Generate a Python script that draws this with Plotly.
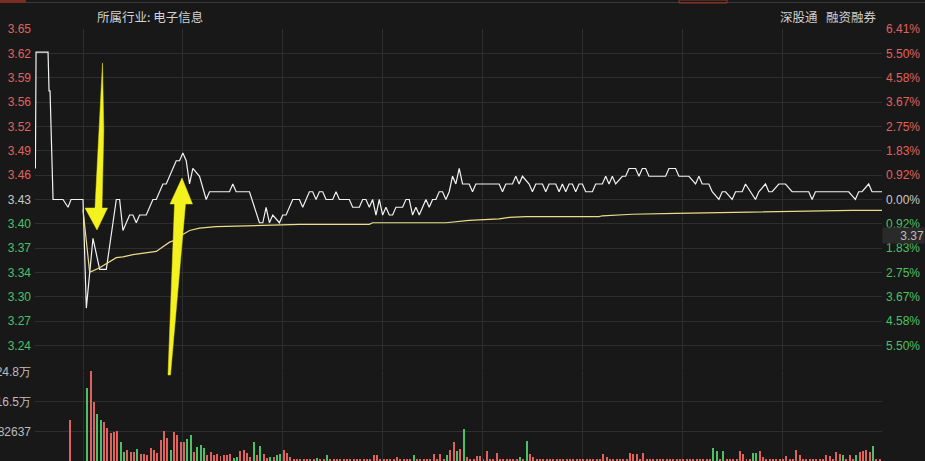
import plotly.graph_objects as go

# ---------------- data ----------------
pre_close = 3.43
max_pct = 6.41

price_tick_labels = ["3.65", "3.62", "3.59", "3.56", "3.52", "3.49", "3.46",
                     "3.43", "3.40", "3.37", "3.34", "3.30", "3.27", "3.24"]
pct_tick_labels = ["6.41%", "5.50%", "4.58%", "3.67%", "2.75%", "1.83%", "0.92%",
                   "0.00%", "0.92%", "1.83%", "2.75%", "3.67%", "4.58%", "5.50%"]
vol_tick_vals = [82637, 165274, 247911]
vol_tick_labels = ["82637", "16.5万", "24.8万"]

# call-auction segment (minutes before 9:30 open, drawn left of the first grid line)
auction_min = [-14.3, -14.1, -10.5, -10.2, -9.9, -9.0, -6.0, -4.5, -3.6, 0]
auction_price = [3.47, 3.62, 3.62, 3.57, 3.57, 3.43, 3.43, 3.42, 3.43, 3.43]
auction_vol_min = [-4]
auction_vol = [115000]

# intraday price (minute, price)
price_min = [0, 1, 2, 3, 5, 7, 8, 10, 11, 12, 14, 15, 16, 17, 19, 21, 22, 24, 25, 28,
             29, 30, 31, 32, 33, 35, 37, 38, 44, 45, 46, 50, 53, 54, 55, 56, 57, 59, 60, 61,
             63, 65, 66, 68, 69, 70, 71, 72, 73, 75, 76, 77, 80, 81, 83, 84, 85, 86, 87, 88,
             89, 90, 91, 92, 93, 94, 96, 97, 98, 99, 100, 101, 103, 104, 105, 106, 107, 108, 109, 110,
             111, 112, 113, 114, 116, 117, 118, 125, 126, 127, 129, 130, 131, 132, 134, 135, 136, 138, 139, 140,
             142, 143, 144, 145, 146, 147, 148, 149, 150, 151, 153, 154, 156, 157, 158, 159, 160, 162, 163, 164,
             166, 167, 168, 169, 170, 175, 176, 178, 179, 182, 184, 185, 186, 188, 189, 191, 192, 193, 195, 196,
             198, 199, 202, 203, 205, 206, 207, 209, 211, 213, 218, 219, 220, 230, 232, 233, 234, 236, 237, 240]
price_val = [3.43, 3.29, 3.34, 3.38, 3.34, 3.34, 3.37, 3.43, 3.43, 3.39, 3.41, 3.41, 3.40, 3.41, 3.41, 3.43, 3.43, 3.45, 3.45, 3.48,
             3.48, 3.49, 3.48, 3.45, 3.47, 3.46, 3.43, 3.44, 3.44, 3.45, 3.44, 3.44, 3.40, 3.40, 3.42, 3.40, 3.41, 3.40, 3.41, 3.41,
             3.43, 3.43, 3.42, 3.44, 3.44, 3.43, 3.44, 3.44, 3.43, 3.43, 3.44, 3.43, 3.43, 3.42, 3.42, 3.43, 3.43, 3.42, 3.43, 3.41,
             3.43, 3.41, 3.42, 3.41, 3.41, 3.42, 3.42, 3.43, 3.43, 3.41, 3.42, 3.41, 3.43, 3.42, 3.43, 3.43, 3.44, 3.44, 3.43, 3.44,
             3.46, 3.45, 3.47, 3.45, 3.45, 3.44, 3.45, 3.45, 3.44, 3.45, 3.45, 3.46, 3.45, 3.46, 3.45, 3.44, 3.45, 3.45, 3.44, 3.45,
             3.45, 3.44, 3.45, 3.44, 3.45, 3.45, 3.44, 3.45, 3.45, 3.44, 3.44, 3.45, 3.45, 3.46, 3.45, 3.46, 3.45, 3.46, 3.46, 3.47,
             3.47, 3.46, 3.47, 3.47, 3.46, 3.46, 3.47, 3.47, 3.46, 3.46, 3.45, 3.46, 3.45, 3.45, 3.44, 3.43, 3.44, 3.44, 3.43, 3.44,
             3.44, 3.45, 3.43, 3.44, 3.45, 3.44, 3.44, 3.45, 3.45, 3.44, 3.44, 3.43, 3.44, 3.44, 3.43, 3.44, 3.44, 3.45, 3.44, 3.44]

# average-price line
avg_min = [0, 2, 5, 8, 10, 12, 15, 22, 24, 26, 28, 30, 32, 35, 40, 50, 65, 86, 87, 109,
           116, 125, 128, 133, 155, 156, 165, 178, 191, 210, 231, 240]
avg_val = [3.417, 3.336, 3.342, 3.350, 3.355, 3.356, 3.359, 3.363, 3.369, 3.375, 3.378, 3.385, 3.390, 3.393, 3.395,
           3.396, 3.398, 3.398, 3.400, 3.400, 3.403, 3.405, 3.407, 3.408, 3.408, 3.409, 3.411, 3.412, 3.413,
           3.415, 3.416, 3.416]

# per-minute volume (shares), minute 0..240
volume = [
    0, 203000, 250000, 165000, 131000, 114000, 109000, 92000, 78000, 82000,
    84000, 54000, 25000, 31000, 25000, 25000, 33000, 19000, 20000, 17000,
    35000, 31000, 21000, 58000, 83000, 65000, 31000, 82000, 72000, 54000,
    52000, 62000, 72000, 26000, 38000, 45000, 35000, 17000, 26000, 17000,
    19000, 14000, 17000, 18000, 19000, 8000, 12000, 29000, 31000, 21000,
    10000, 52000, 17000, 43000, 19000, 8000, 10000, 10000, 17000, 19000,
    31000, 21000, 10000, 6000, 5000, 4000, 6000, 4000, 3000, 5000,
    8000, 4000, 3000, 17000, 4000, 3000, 4000, 3000, 4000, 3000,
    4000, 3000, 4000, 3000, 5000, 4000, 6000, 17000, 17000, 5000,
    4000, 3000, 5000, 4000, 12000, 4000, 3000, 5000, 4000, 17000,
    4000, 3000, 5000, 4000, 6000, 20000, 4000, 20000, 5000, 17000,
    31000, 52000, 29000, 33000, 89000, 10000, 4000, 5000, 14000, 14000,
    5000, 29000, 4000, 5000, 21000, 4000, 3000, 4000, 3000, 4000,
    4000, 10000, 5000, 56000, 19000, 10000, 4000, 3000, 4000, 3000,
    4000, 3000, 4000, 3000, 4000, 3000, 4000, 3000, 4000, 3000,
    4000, 3000, 4000, 5000, 4000, 6000, 19000, 12000, 4000, 3000,
    4000, 3000, 5000, 4000, 21000, 19000, 19000, 5000, 21000, 4000,
    3000, 4000, 3000, 4000, 3000, 4000, 3000, 4000, 3000, 4000,
    3000, 4000, 3000, 4000, 5000, 4000, 3000, 4000, 6000, 35000,
    29000, 5000, 29000, 6000, 4000, 5000, 4000, 29000, 19000, 5000,
    6000, 21000, 21000, 29000, 10000, 4000, 3000, 4000, 5000, 4000,
    4000, 14000, 5000, 4000, 31000, 17000, 4000, 3000, 4000, 5000,
    4000, 5000, 6000, 17000, 14000, 5000, 26000, 19000, 17000, 6000,
    18000, 5000, 17000, 26000, 29000, 31000, 26000, 43000, 6000, 5000,
    33000,
]
down_minutes = [1, 4, 5, 11, 12, 16, 26, 31, 32, 34, 35, 36, 45, 46, 51, 53, 56, 58, 59,
                70, 73, 99, 109, 112, 114, 131, 133, 189, 190, 192, 201, 202, 228, 232, 237]

header_left = "所属行业: 电子信息"
header_right = "深股通   融资融券"
cursor_price = "3.37"

# ---------------- style ----------------
BG = "#181818"
GRID = "#2e2e2e"
RED = "#e0625c"
GREEN = "#4cc066"
NEUTRAL = "#c8c8c8"
W, H = 925, 461
ML, MR, MT, MB = 35, 43, 29, 0
PW, PH = W - ML - MR, H - MT - MB


def px(xp):
    return (xp - ML) / PW


def py(yp):
    return (H - yp) / PH


step = max_pct / 7 / 100
ks = list(range(7, -7, -1))
tickvals = [pre_close * (1 + k * step) for k in ks]
lo = pre_close * (1 - max_pct / 100)
hi = pre_close * (1 + max_pct / 100) + 1e-6


def col(k):
    return RED if k > 0 else (GREEN if k < 0 else NEUTRAL)


left_text = [f"<span style='color:{col(k)}'>{t}</span>" for k, t in zip(ks, price_tick_labels)]
right_text = [f"<span style='color:{col(k)}'>{t}</span>" for k, t in zip(ks, pct_tick_labels)]

x_min = -48 / 3.329
fig = go.Figure()

fig.add_trace(go.Scatter(x=auction_min + price_min[1:], y=auction_price + price_val[1:],
                         mode="lines", line=dict(color="#f2f2f2", width=1.2),
                         xaxis="x", yaxis="y", hoverinfo="skip"))
fig.add_trace(go.Scatter(x=avg_min, y=avg_val, mode="lines",
                         line=dict(color="#eadc8a", width=1.2),
                         xaxis="x", yaxis="y", hoverinfo="skip"))
fig.add_trace(go.Scatter(x=[0], y=[pre_close], mode="markers", marker=dict(opacity=0),
                         xaxis="x", yaxis="y2", hoverinfo="skip"))

vol_x = [i + 0.3 for i in range(len(volume))]
vol_colors = [GREEN if i in down_minutes else RED for i in range(len(volume))]
fig.add_trace(go.Bar(x=auction_vol_min + vol_x, y=auction_vol + volume,
                     marker=dict(color=[RED] + vol_colors, line=dict(width=0)),
                     width=0.3, xaxis="x2", yaxis="y3", hoverinfo="skip"))

price_bottom = py(370)
vol_top = py(371)

fig.update_layout(
    width=W, height=H, paper_bgcolor=BG, plot_bgcolor=BG,
    margin=dict(l=ML, r=MR, t=MT, b=MB, pad=0),
    showlegend=False, bargap=0, hovermode=False,
    font=dict(family="Liberation Sans, Arial, sans-serif", size=12, color=NEUTRAL),
    xaxis=dict(domain=[0, 1], range=[x_min, 240], anchor="y",
               tickvals=list(range(0, 241, 30)), showticklabels=False, ticks="",
               showgrid=True, gridcolor=GRID, gridwidth=1, zeroline=False, automargin=False),
    xaxis2=dict(domain=[0, 1], range=[x_min, 240], anchor="y3", matches="x",
                tickvals=list(range(0, 241, 30)), showticklabels=False, ticks="",
                showgrid=True, gridcolor=GRID, gridwidth=1, zeroline=False, automargin=False),
    yaxis=dict(domain=[price_bottom, 1], range=[lo, hi], anchor="x", side="left",
               tickvals=tickvals, ticktext=left_text, ticks="", ticklabelstandoff=3,
               showgrid=True, gridcolor=GRID, gridwidth=1, zeroline=False, automargin=False,
               tickfont=dict(size=12)),
    yaxis2=dict(domain=[price_bottom, 1], range=[lo, hi], overlaying="y", side="right",
                anchor="x", tickvals=tickvals, ticktext=right_text, ticks="", ticklabelstandoff=3,
                showgrid=False, zeroline=False, automargin=False, tickfont=dict(size=12)),
    yaxis3=dict(domain=[0, vol_top], range=[0, vol_tick_vals[-1] * 90 / 89], anchor="x2",
                side="left", tickvals=vol_tick_vals, ticktext=vol_tick_labels, ticks="",
                ticklabelstandoff=3, showgrid=True, gridcolor=GRID, gridwidth=1,
                zeroline=False, automargin=False, tickfont=dict(size=12, color="#bdbdbd")),
)

# yellow hand-drawn arrows (decoration)
def poly(points):
    s = "M " + " L ".join(f"{px(a):.5f},{py(b):.5f}" for a, b in points) + " Z"
    return s

down_arrow = [(102.5, 63), (103.8, 130), (102, 208), (107.5, 208), (97, 230), (85, 208), (95, 208)]
up_arrow = [(168, 375), (174.5, 204), (170, 204), (182, 178), (192.5, 204), (185.5, 204), (170.5, 375)]
for pts in (down_arrow, up_arrow):
    fig.add_shape(type="path", path=poly(pts), xref="paper", yref="paper",
                  fillcolor="#f4f21e", line=dict(color="#e8e020", width=0.5), layer="above")

# top tab strip
fig.add_shape(type="line", xref="paper", yref="paper", x0=px(0), x1=px(925), y0=py(2.5), y1=py(2.5),
              line=dict(color="#3c3c3c", width=1))
fig.add_shape(type="line", xref="paper", yref="paper", x0=px(0), x1=px(26), y0=py(1.5), y1=py(1.5),
              line=dict(color="#7a2e22", width=3))
fig.add_shape(type="rect", xref="paper", yref="paper", x0=px(679), x1=px(727), y0=py(0), y1=py(3),
              line=dict(color="#9a3222", width=1), fillcolor="rgba(0,0,0,0)")

fig.add_annotation(text=header_left, xref="paper", yref="paper", x=px(95), y=py(16),
                   xanchor="left", yanchor="middle", showarrow=False,
                   font=dict(family="Noto Sans CJK SC", size=12.5, color="#d0d0d0"))
fig.add_annotation(text=header_right, xref="paper", yref="paper", x=px(878), y=py(16),
                   xanchor="right", yanchor="middle", showarrow=False,
                   font=dict(family="Noto Sans CJK SC", size=12.5, color="#d0d0d0"))
fig.add_annotation(text=cursor_price, xref="paper", yref="paper", x=px(925), y=py(235.5),
                   xanchor="right", yanchor="middle", showarrow=False, width=41, height=15,
                   align="right", bgcolor="#2a2a2a", borderpad=0,
                   font=dict(family="Liberation Sans", size=12, color="#bdbdbd"))

fig.write_html("out.html", config={"displayModeBar": False},
               post_script="document.body.style.margin='0';document.body.style.background='%s';" % BG)
